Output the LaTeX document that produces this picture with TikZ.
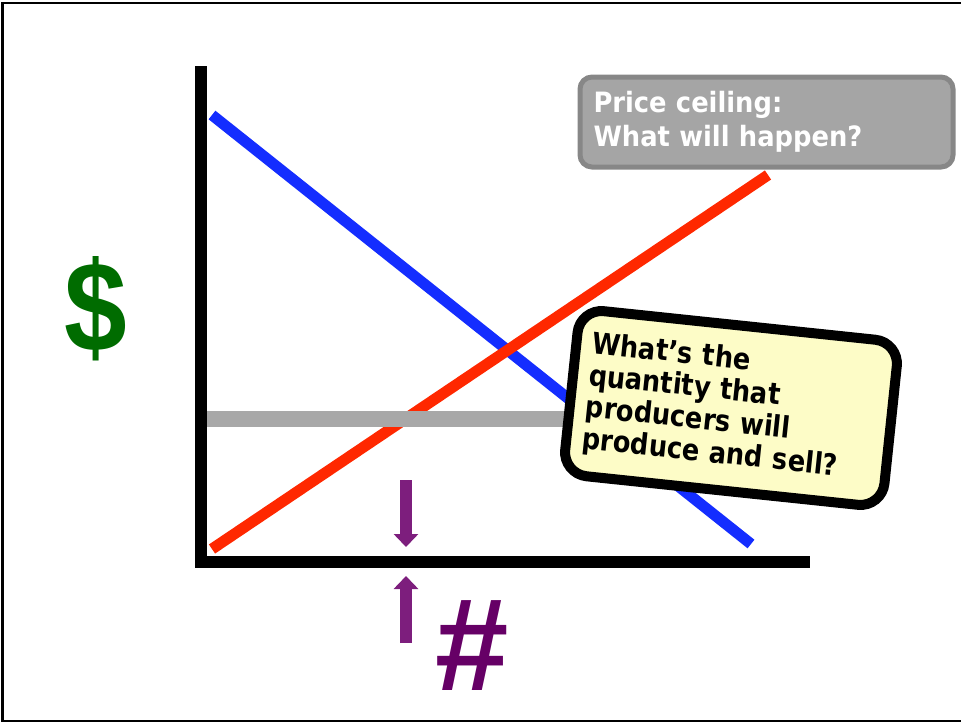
\documentclass[tikz,border=0pt]{standalone}
\usepackage{fontspec}
\newfontfamily\labelfont[FakeStretch=0.92]{DejaVu Sans}
\newfontfamily\notefont[FakeStretch=0.87]{DejaVu Sans}
\newfontfamily\signfont{Liberation Sans}
\usetikzlibrary{arrows.meta, positioning}

\definecolor{demandblue}{RGB}{20,45,255}
\definecolor{supplyred}{RGB}{255,40,0}
\definecolor{ceilgray}{RGB}{168,168,168}
\definecolor{boxgray}{RGB}{165,165,165}
\definecolor{boxedge}{RGB}{135,135,135}
\definecolor{noteyellow}{RGB}{253,252,199}
\definecolor{dollargreen}{RGB}{0,108,0}
\definecolor{qtypurple}{RGB}{102,0,102}
\definecolor{arrowpurple}{RGB}{125,30,125}

\begin{document}
\begin{tikzpicture}[x=1pt, y=-1pt,
  curve/.style={line width=11pt},
  qtyarrow/.style={arrowpurple, line width=12pt, -{Triangle[width=24pt, length=13pt]}},
  pricebox/.style={draw=boxedge, fill=boxgray, line width=5pt, rounded corners=12pt,
    text=white, align=left, text width=346pt, inner xsep=13.5pt, minimum height=90pt,
    font=\labelfont\bfseries\fontsize{28}{34}\selectfont},
  askbox/.style={draw=black, fill=noteyellow, line width=10pt, rounded corners=24pt,
    align=left, text width=289pt, inner xsep=16pt, minimum height=166pt,
    font=\notefont\bfseries\fontsize{29.5}{32}\selectfont}]

  \useasboundingbox (0,0) rectangle (961,724);

  % Frame
  \draw[line width=2.5pt] (2.5,3) rectangle (975,721);

  % Axis points
  \coordinate (O) at (201,562);
  \coordinate (ytop) at (201,66);
  \coordinate (xend) at (810,562);

  % Demand and supply
  \coordinate (D1) at (212,115);
  \coordinate (D2) at (751,544);
  \coordinate (S1) at (212,549);
  \coordinate (S2) at (768,175);
  \draw[curve, demandblue] (D1) -- (D2);
  \draw[curve, supplyred] (S1) -- (S2);

  % Price ceiling
  \coordinate (C1) at (207,419);
  \coordinate (C2) at (620,419);
  \draw[ceilgray, line width=16pt] (C1) -- (C2);

  % Axes
  \draw[line width=12pt, miter limit=4] (ytop) -- (O) -- (xend);

  % Labels
  \node[text=dollargreen, font=\signfont\bfseries\fontsize{128}{128}\selectfont, xscale=0.88] (dollar) at (96,309) {\$};
  \node[text=qtypurple, font=\signfont\bfseries\itshape\fontsize{132}{132}\selectfont] (hash) at (470,646) {\#};

  % Quantity arrows
  \coordinate (A1) at (406,480);
  \coordinate (A2) at (406,547);
  \coordinate (B1) at (406,643);
  \coordinate (B2) at (406,576);
  \draw[qtyarrow] (A1) -- (A2);
  \draw[qtyarrow] (B1) -- (B2);

  % Callouts
  \node[pricebox, anchor=north west] (ceiling) at (577.5,74.5) {Price ceiling:\\What will happen?};
  \node[askbox, rotate=-6] (ask) at (731,408) {What’s the\\quantity that\\producers will\\produce and sell?};

\end{tikzpicture}
\end{document}
